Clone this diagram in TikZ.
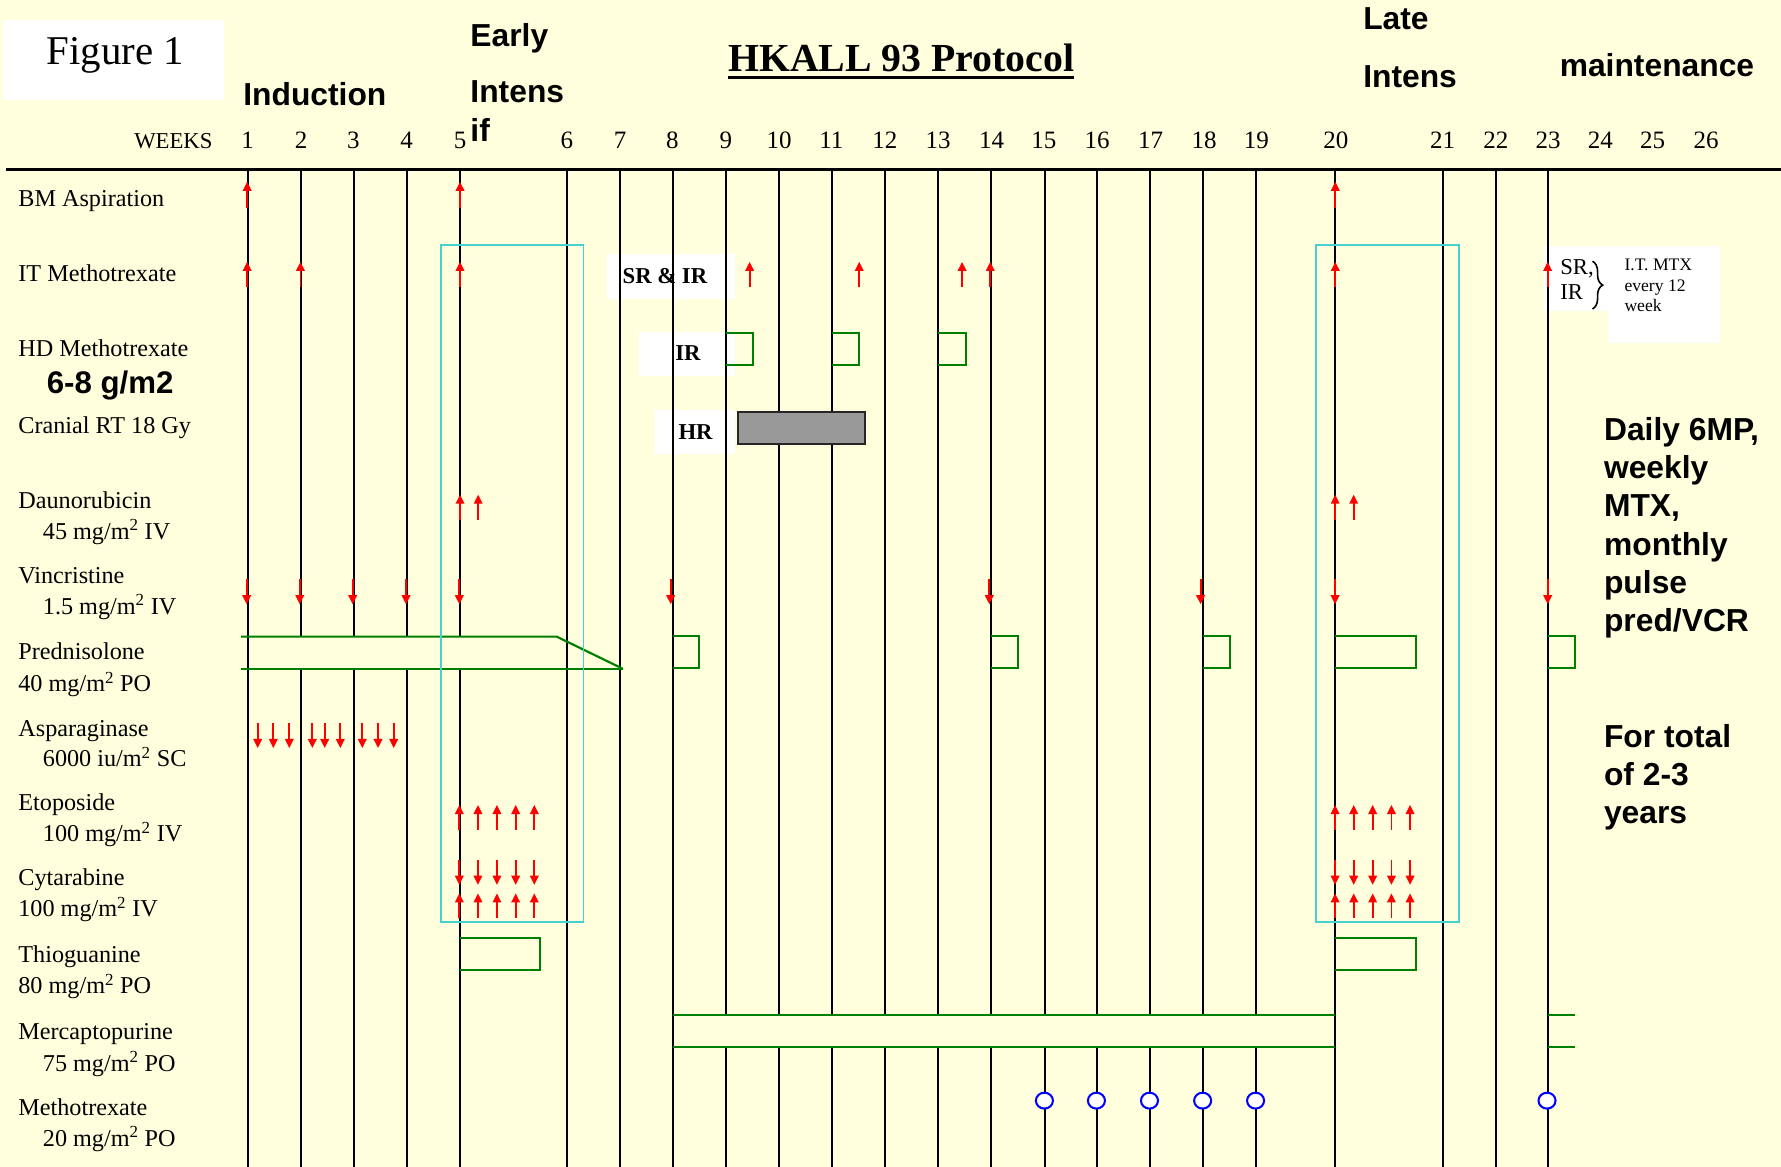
\documentclass[tikz,border=0pt]{standalone}
\usepackage{fontspec}
\setmainfont{Liberation Serif}
\setsansfont{Liberation Sans}
\usetikzlibrary{arrows.meta,decorations.pathreplacing}
\definecolor{bgy}{RGB}{255,255,221}
\definecolor{gr}{RGB}{0,128,0}
\definecolor{cy}{RGB}{72,208,208}
\definecolor{rd}{RGB}{255,0,0}
\definecolor{bl}{RGB}{0,0,255}
\definecolor{rtgray}{RGB}{153,153,153}
\begin{document}
\begin{tikzpicture}[x=1pt,y=-1pt,
  lbl/.style={anchor=base west,inner sep=0pt,font=\fontsize{21.3}{25}\selectfont},
  wk/.style={anchor=base,inner sep=0pt,font=\fontsize{22}{26}\selectfont},
  hdr/.style={anchor=base west,inner sep=0pt,font=\fontsize{28}{33}\selectfont\sffamily\bfseries},
  tag/.style={anchor=base west,inner sep=0pt,font=\fontsize{20}{24}\selectfont\bfseries},
  note/.style={anchor=base west,inner sep=0pt,font=\fontsize{15.5}{18}\selectfont},
  gridline/.style={line width=1.8pt,black},
  gline/.style={draw=gr,line width=1.9pt},
  cbox/.style={draw=cy,line width=1.5pt},
  redar/.style={draw=rd,line width=1.6pt,-{Triangle[width=7.5pt,length=8pt]}},
  mtxdot/.style={draw=bl,line width=1.8pt,fill=white}]
\useasboundingbox (0,0) rectangle (1568,1027);
\fill[bgy] (0,0) rectangle (1568,1027);
% white label boxes
\fill[white] (2.5,17.6) rectangle (197,88);
\fill[white] (534.7,223.6) rectangle (647,263.2);
\fill[white] (563,292) rectangle (647,330.8);
\fill[white] (577,361) rectangle (647,400);
\fill[white] (1359,217) rectangle (1416,274);
\fill[white] (1416,217) rectangle (1514,302);
% week grid
\foreach \x in {218.1,498.9,545.6,592.2,1175.6,1270.2,1317.1,1362.7}
  \draw[gridline] (\x,149) -- (\x,1027);
\foreach \x in {264.7,311.4,358,405.3} {
  \draw[gridline] (\x,149) -- (\x,560.5);
  \draw[gridline] (\x,588.7) -- (\x,1027);}
\foreach \x in {639.2,685.9,732.4,779.2,825.9,872.5,919.6,966.2,1012.3,1059.4,1106} {
  \draw[gridline] (\x,149) -- (\x,893.6);
  \draw[gridline] (\x,922.1) -- (\x,1027);}
\draw[line width=2.4pt] (5,149) -- (1568,149);
% HD methotrexate (IR)
\foreach \a/\b in {639.2/663.3,732.4/756.6,825.9/850.2}
  \draw[gline] (\a,292.9) -- (\b,292.9) -- (\b,321.6) -- (\a,321.6);
% cranial RT
\draw[fill=rtgray,draw=black!85,line width=1.5pt] (649.5,362.5) rectangle (761.6,391);
% prednisolone
\draw[gline] (212.2,560.5) -- (490.1,560.5) -- (548.2,588.7);
\draw[gline] (212.2,588.7) -- (548.2,588.7);
\foreach \a/\b in {592.2/615.7,872.5/896.3,1059.4/1083.2,1175.6/1246.7,1362.7/1386.5}
  \draw[gline] (\a,559.8) -- (\b,559.8) -- (\b,588) -- (\a,588);
% thioguanine
\foreach \a/\b in {405.3/475.4,1175.6/1246.7}
  \draw[gline] (\a,825.8) -- (\b,825.8) -- (\b,854) -- (\a,854);
% mercaptopurine
\draw[gline] (592.2,893.6) -- (1175.6,893.6);
\draw[gline] (592.2,922.1) -- (1175.6,922.1);
\draw[gline] (1362.7,893.6) -- (1386.7,893.6);
\draw[gline] (1362.7,922.1) -- (1386.7,922.1);
% intensification frames
\draw[cbox] (388,216) rectangle (513.6,811.5);
\draw[cbox] (1158.6,216) rectangle (1284.6,811.5);
% arrows
\foreach \x in {217.6,405,1175.6} \draw[redar] (\x,183) -- (\x,160);
\foreach \x in {217.6,264.5,405,660,756.5,847,871.8,1175.6,1362.5} \draw[redar] (\x,253) -- (\x,230.5);
\foreach \x in {405,421,1175.5,1191.8} \draw[redar] (\x,458) -- (\x,435.5);
\foreach \x in {217.2,263.9,310.5,357.5,404.4,590.5,871,1057,1175.4,1362.6} \draw[redar] (\x,509.5) -- (\x,532);
\foreach \x in {226.9,240.6,254.7,275,285.9,299.6,319,332.8,346.6} \draw[redar] (\x,636.6) -- (\x,658.6);
\foreach \o in {0,16.4,33.1,49.6,66} {
  \foreach \s in {404.4,1175.4} {
    \draw[redar] ({\s+\o},730.8) -- ({\s+\o},708.7);
    \draw[redar] ({\s+\o},757) -- ({\s+\o},779);
    \draw[redar] ({\s+\o},808.5) -- ({\s+\o},786.5);}}
% oral methotrexate
\foreach \x in {919.5,965.3,1012,1058.8,1105.4,1362} \draw[mtxdot] (\x,969) ellipse [x radius=7.5pt,y radius=7pt];
% brace
\draw[decorate,decoration={brace,amplitude=9pt},line width=1.4pt] (1402,230) -- (1402,272);
% header texts
\node[anchor=base west,inner sep=0pt,font=\fontsize{36}{40}\selectfont] (fig) at (41,57) {Figure 1};
\node[anchor=base west,inner sep=0pt,font=\fontsize{35}{40}\selectfont\bfseries] (title) at (641,63) {HKALL 93 Protocol};
\draw[line width=3pt] (641,68.1) -- (945.3,68.1);
\node[hdr] (ind) at (214,93) {Induction};
\node[hdr] (early) at (414,41) {Early};
\node[hdr] (eintens) at (414,90) {Intens};
\node[hdr] (eif) at (414,125) {if};
\node[hdr] (late) at (1200,26) {Late};
\node[hdr] (lintens) at (1200,77) {Intens};
\node[hdr] (maint) at (1373,67.5) {maintenance};
\node[anchor=base west,inner sep=0pt,font=\fontsize{20}{24}\selectfont] (weeks) at (118,131) {WEEKS};
\foreach \n/\x in {1/218,2/265,3/311,4/358,5/405,6/499,7/546,8/592,9/639,10/686,11/732,12/779,13/826,14/873,15/919,16/966,17/1013,18/1060,19/1106,20/1176,21/1270,22/1317,23/1363,24/1409,25/1455,26/1502}
  \node[wk] (wk\n) at (\x,131) {\n};
% row labels
\node[lbl] (l1) at (16,182) {BM Aspiration};
\node[lbl] (l2) at (16,248) {IT Methotrexate};
\node[lbl] (l3) at (16,314) {HD Methotrexate};
\node[anchor=base west,inner sep=0pt,font=\fontsize{27.5}{32}\selectfont\sffamily\bfseries] (l3b) at (41,346.3) {6-8 g/m2};
\node[lbl] (l4) at (16,382) {Cranial RT 18 Gy};
\node[lbl] (l5) at (16,448) {Daunorubicin};
\node[lbl] (l5b) at (37.6,475) {45 mg/m\textsuperscript{2} IV};
\node[lbl] (l6) at (16,514) {Vincristine};
\node[lbl] (l6b) at (37.6,541) {1.5 mg/m\textsuperscript{2} IV};
\node[lbl] (l7) at (16,581) {Prednisolone};
\node[lbl] (l7b) at (16,609) {40 mg/m\textsuperscript{2} PO};
\node[lbl] (l8) at (16,648) {Asparaginase};
\node[lbl] (l8b) at (37.6,675) {6000 iu/m\textsuperscript{2} SC};
\node[lbl] (l9) at (16,714) {Etoposide};
\node[lbl] (l9b) at (37.6,741) {100 mg/m\textsuperscript{2} IV};
\node[lbl] (l10) at (16,780) {Cytarabine};
\node[lbl] (l10b) at (16,807) {100 mg/m\textsuperscript{2} IV};
\node[lbl] (l11) at (16,847) {Thioguanine};
\node[lbl] (l11b) at (16,875) {80 mg/m\textsuperscript{2} PO};
\node[lbl] (l12) at (16,915) {Mercaptopurine};
\node[lbl] (l12b) at (37.6,943) {75 mg/m\textsuperscript{2} PO};
\node[lbl] (l13) at (16,982) {Methotrexate};
\node[lbl] (l13b) at (37.6,1009) {20 mg/m\textsuperscript{2} PO};
% group tags
\node[tag] (tsrir) at (548,250) {SR \& IR};
\node[tag] (tir) at (594.3,317) {IR};
\node[tag] (thr) at (597.2,387) {HR};
\node[anchor=base west,inner sep=0pt,font=\fontsize{20}{24}\selectfont] (tsr) at (1373.5,242) {SR,};
\node[anchor=base west,inner sep=0pt,font=\fontsize{20}{24}\selectfont] (tir2) at (1373.5,264) {IR};
\node[note] (n1) at (1430,238.3) {I.T. MTX};
\node[note] (n2) at (1430,256.8) {every 12};
\node[note] (n3) at (1430,274.4) {week};
% maintenance notes
\foreach \t/\y [count=\i] in {{Daily 6MP,}/387.6,weekly/421.3,{MTX,}/455,monthly/488.7,pulse/522.4,{pred/VCR}/556,{For total}/658,{of 2-3}/691.7,years/725.4}
  \node[hdr] (m\i) at (1412,\y) {\t};
\end{tikzpicture}
\end{document}
